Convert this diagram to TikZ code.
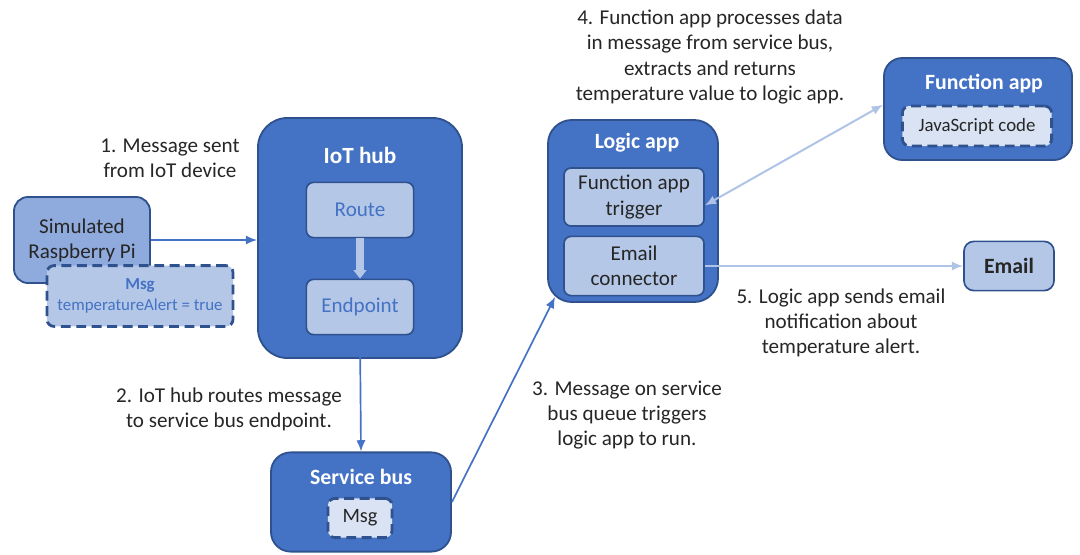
\documentclass[tikz,border=0pt]{standalone}
\usepackage{fontspec}
\setmainfont{Carlito}
\usetikzlibrary{arrows.meta}

\definecolor{hubblue}{HTML}{4472C4}
\definecolor{edgeblue}{HTML}{2F528F}
\definecolor{paleblue}{HTML}{B4C7E7}
\definecolor{iceblue}{HTML}{DAE3F3}
\definecolor{piblue}{HTML}{8FAADC}
\definecolor{linkblue}{HTML}{AEC3E6}
\definecolor{ink}{HTML}{262626}

\begin{document}
\begin{tikzpicture}[
  x=0.025cm, y=-0.025cm,
  font=\fontsize{15}{17.8}\selectfont,
  service/.style={
    rectangle, draw=edgeblue, line width=1.3pt, fill=hubblue
  },
  inner/.style={
    rectangle, rounded corners=5pt,
    draw=edgeblue, line width=1.2pt, fill=paleblue,
    align=center, inner sep=0pt
  },
  payload/.style={
    rectangle, rounded corners=5pt,
    draw=edgeblue, line width=2pt, dash pattern=on 7pt off 4pt,
    fill=iceblue, align=center, inner sep=0pt,
    text=ink, font=\fontsize{13.4}{15}\selectfont
  },
  title/.style={text=white, font=\fontsize{15.5}{18}\selectfont\bfseries},
  note/.style={text=ink, align=center},
  arr/.style={-{Latex[length=8pt,width=6.5pt]}, line width=1.2pt, hubblue},
  larr/.style={-{Latex[length=8pt,width=6.5pt]}, line width=1.4pt, linkblue},
  fat/.style={-{Triangle[length=6pt,width=9pt]}, line width=5pt, paleblue}
]
\useasboundingbox (0,0) rectangle (1080,554);

%% -- Device and message ------------------------------------------
\node[rectangle, rounded corners=10pt, draw=edgeblue, line width=1.3pt,
      fill=piblue, minimum width=3.4cm, minimum height=2.15cm,
      align=center, inner sep=0pt, text=ink] (pi) at (82,240)
      {Simulated\\Raspberry Pi};
\node[payload, fill=paleblue, text=hubblue,
      font=\fontsize{12}{14.5}\selectfont,
      minimum width=4.65cm, minimum height=1.52cm] (msg) at (140,296)
      {\textbf{Msg}\\temperatureAlert = true};

%% -- IoT hub ------------------------------------------------------
\node[service, rounded corners=21pt, minimum width=5.1cm,
      minimum height=6.0cm] (iothub) at (360,238) {};
\node[title, font=\fontsize{16.5}{19}\selectfont\bfseries]
      (hubtitle) at (360,155) {IoT hub};
\node[inner, text=hubblue, minimum width=2.68cm,
      minimum height=1.38cm] (route) at (360,210) {Route};
\node[inner, text=hubblue, minimum width=2.68cm,
      minimum height=1.38cm] (endpoint) at (360,307) {Endpoint};
\draw[fat] (route.south) -- (endpoint.north);

%% -- Service bus --------------------------------------------------
\node[service, rounded corners=14pt, minimum width=4.5cm,
      minimum height=2.48cm] (sbus) at (361,502) {};
\node[title] (bustitle) at (361,477) {Service bus};
\node[payload, font=\fontsize{14.5}{16}\selectfont, minimum width=1.6cm,
      minimum height=0.98cm] (sbmsg) at (360,518) {Msg};

%% -- Logic app ----------------------------------------------------
\node[service, rounded corners=17pt, minimum width=4.25cm,
      minimum height=4.55cm] (logic) at (633,211) {};
\node[title] (logictitle) at (637,143) {Logic app};
\node[inner, text=ink, minimum width=3.5cm,
      minimum height=1.45cm] (fatrig) at (634,197)
      {Function app\\trigger};
\node[inner, text=ink, minimum width=3.5cm,
      minimum height=1.48cm] (emailconn) at (634,266)
      {Email\\connector};

%% -- Function app and email ---------------------------------------
\node[service, rounded corners=13pt, minimum width=4.7cm,
      minimum height=2.55cm] (funcapp) at (978,109) {};
\node[title] (functitle) at (984,84) {Function app};
\node[payload, minimum width=3.73cm, minimum height=1.0cm]
      (jscode) at (977,126) {JavaScript code};
\node[inner, rounded corners=7pt, text=ink, minimum width=2.25cm,
      minimum height=1.23cm, font=\fontsize{15.5}{18}\selectfont\bfseries]
      (email) at (1009,266) {Email};

%% -- Connectors ---------------------------------------------------
\draw[arr] (pi.east) -- (pi.east -| iothub.west);
\draw[arr] (endpoint.south) -- (sbus.north);
\draw[arr] (sbus.east) -- ([shift={(8,-6)}]logic.south west);
\draw[larr] (emailconn.east) -- (email.west);
\draw[larr, {Latex[length=8pt,width=6.5pt]}-{Latex[length=8pt,width=6.5pt]}]
  ([yshift=-6]fatrig.east) -- ([yshift=3]funcapp.west);

%% -- Step notes ---------------------------------------------------
\node[note] (note1) at (170,158) {1. Message sent\\from IoT device};
\node[note] (note2) at (229,409) {2. IoT hub routes message\\to service bus endpoint.};
\node[note] (note3) at (627,415) {3. Message on service\\bus queue triggers\\logic app to run.};
\node[note] (note4) at (710,57) {4. Function app processes data\\in message from service bus,\\extracts and returns\\temperature value to logic app.};
\node[note] (note5) at (841,323) {5. Logic app sends email\\notification about\\temperature alert.};
\end{tikzpicture}
\end{document}
